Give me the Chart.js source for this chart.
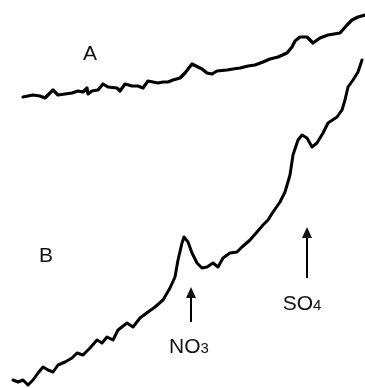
<!DOCTYPE html>
<html>
<head>
<meta charset="utf-8">
<script src="https://cdn.jsdelivr.net/npm/chart.js@4.4.1/dist/chart.umd.min.js"></script>
<style>
  html, body { margin:0; padding:0; background:#fff; }
  #wrap { width:365px; height:388px; position:relative; }
</style>
</head>
<body>
<div id="wrap"><canvas id="c"></canvas></div>
<script>
// trace A (upper) : time vs signal
const aTime = [23,33,40,45,50,53,58,65,72,78,83,87,88,92,98,103,108,117,120,125,132,138,143,148,153,158,163,168,173,180,185,192,198,202,207,212,217,227,233,240,248,255,263,270,278,287,292,295,300,307,313,320,328,340,347,352,358,365];
const aSignal = [291,293,292,290,295,298,293,294,295,297,296,300,294,297,298,304,301,300,297,304,302,302,300,307,306,305,306,306,308,310,315,324,321,319,315,314,317,318,319,320,322,323,326,329,331,335,341,347,351,351,345,350,353,355,363,368,371,373];

// trace B (lower)
const bTime = [13,18,23,28,33,38,43,48,53,58,65,72,77,83,90,97,102,107,113,118,127,133,140,148,155,163,170,175,178,182,184,188,192,197,202,207,213,218,223,230,237,242,250,257,263,268,273,280,285,290,293,298,302,307,312,317,323,328,337,342,345,348,353,358,362];
const bSignal = [8,6,8,3,8,15,21,18,16,23,26,30,35,33,40,48,45,51,48,58,65,61,70,76,81,88,100,111,128,145,151,146,135,125,120,121,125,121,130,135,136,141,148,156,163,168,176,186,196,213,233,248,253,250,241,245,255,265,271,278,288,301,308,316,328];

// text labels and peak markers
const traceLabels = [{ text:'A', x:90, y:334 }, { text:'B', x:46, y:132 }];
const peaks = [
  { ion:'NO', sub:'3', x:191, tip:101, tail:66, labelX:189, labelY:35 },
  { ion:'SO', sub:'4', x:307, tip:161, tail:110, labelX:302, labelY:78 }
];

const toXY = (xs, ys) => xs.map((x, i) => ({ x, y: ys[i] }));
const font = s => s + 'px "Liberation Sans", Arial, sans-serif';

const notes = {
  id:'notes',
  afterDatasetsDraw(chart){
    const { ctx, scales:{ x, y } } = chart;
    ctx.save();
    ctx.fillStyle = '#111';
    ctx.strokeStyle = '#000';
    ctx.font = font(21);
    ctx.textAlign = 'center';
    ctx.textBaseline = 'middle';
    traceLabels.forEach(l => ctx.fillText(l.text, x.getPixelForValue(l.x), y.getPixelForValue(l.y)));

    peaks.forEach(p => {
      const px = x.getPixelForValue(p.x);
      const ty = y.getPixelForValue(p.tip);
      const by = y.getPixelForValue(p.tail);
      ctx.lineWidth = 2;
      ctx.beginPath();
      ctx.moveTo(px, by);
      ctx.lineTo(px, ty + 8);
      ctx.stroke();
      ctx.beginPath();
      ctx.moveTo(px, ty);
      ctx.lineTo(px - 5, ty + 11);
      ctx.lineTo(px + 5, ty + 11);
      ctx.closePath();
      ctx.fill();

      // ion label with subscript
      ctx.textAlign = 'left';
      ctx.textBaseline = 'alphabetic';
      ctx.font = font(21);
      const w1 = ctx.measureText(p.ion).width;
      ctx.font = font(15);
      const w2 = ctx.measureText(p.sub).width;
      const lx = x.getPixelForValue(p.labelX) - (w1 + w2) / 2;
      const ly = y.getPixelForValue(p.labelY);
      ctx.font = font(21);
      ctx.fillText(p.ion, lx, ly);
      ctx.font = font(15);
      ctx.fillText(p.sub, lx + w1, ly);
    });
    ctx.restore();
  }
};

new Chart(document.getElementById('c'), {
  type:'line',
  data:{ datasets:[
    { label:'A', data: toXY(aTime, aSignal), borderColor:'#000', borderWidth:3.2, pointRadius:0, tension:0, borderJoinStyle:'round', borderCapStyle:'round' },
    { label:'B', data: toXY(bTime, bSignal), borderColor:'#000', borderWidth:3, pointRadius:0, tension:0, borderJoinStyle:'round', borderCapStyle:'round' }
  ]},
  options:{
    responsive:true, maintainAspectRatio:false, animation:false,
    layout:{ padding:0 },
    scales:{
      x:{ type:'linear', min:0, max:365, display:false },
      y:{ type:'linear', min:0, max:388, display:false }
    },
    plugins:{ legend:{ display:false }, tooltip:{ enabled:false } }
  },
  plugins:[notes]
});
</script>
</body>
</html>
